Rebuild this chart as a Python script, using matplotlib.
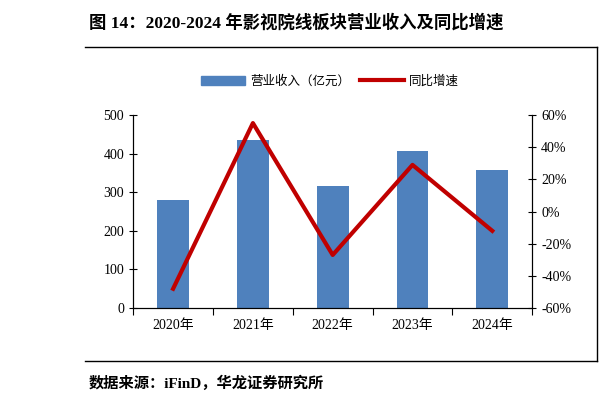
import matplotlib
matplotlib.use("Agg")
import matplotlib.pyplot as plt
from matplotlib.lines import Line2D
from matplotlib.ticker import FuncFormatter, MultipleLocator

plt.rcParams["font.family"] = ["Liberation Serif", "Noto Sans CJK SC"]

years = ["2020年", "2021年", "2022年", "2023年", "2024年"]
revenue = [280, 435, 315, 407, 357]
growth = [-48, 55, -27, 29, -12]

fig = plt.figure(figsize=(6, 4.08), dpi=100)
ax = fig.add_axes([0.222, 0.245, 0.665, 0.473])
ax2 = ax.twinx()

x = range(len(years))
ax.bar(x, revenue, width=0.4, color="#4f81bd", zorder=2)
ax2.plot(x, growth, color="#c00000", lw=3, zorder=3)

ax.set_xlim(-0.5, len(years) - 0.5)
ax.set_ylim(0, 500)
ax.yaxis.set_major_locator(MultipleLocator(100))
ax2.set_ylim(-60, 60)
ax2.yaxis.set_major_locator(MultipleLocator(20))
ax2.yaxis.set_major_formatter(FuncFormatter(lambda v, p: f"{v:.0f}%"))

ax.set_xticks([i - 0.5 for i in range(len(years) + 1)])
ax.set_xticklabels([])
ax.set_xticks(list(x), minor=True)
ax.set_xticklabels(years, minor=True, fontsize=10)
ax.tick_params(axis="x", which="minor", length=0, pad=8)
ax.tick_params(axis="x", which="major", direction="out", length=5)
ax.tick_params(axis="y", direction="inout", length=6, labelsize=10)
ax2.tick_params(axis="y", direction="inout", length=6, labelsize=10)
for a in (ax, ax2):
    a.spines["top"].set_visible(False)

handles = [plt.Rectangle((0, 0), 1, 1, color="#4f81bd"),
           Line2D([0], [0], color="#c00000", lw=3)]
fig.legend(handles, ["营业收入（亿元）", "同比增速"], loc="center",
           bbox_to_anchor=(0.55, 0.8), ncol=2, frameon=False, fontsize=9,
           handlelength=3.5, columnspacing=0.8, handletextpad=0.4)

fig.text(0.148, 0.945, "图 14：2020-2024 年影视院线板块营业收入及同比增速",
         fontsize=12.5, fontweight="bold", va="center")
fig.text(0.148, 0.06, "数据来源：iFinD，华龙证券研究所",
         fontsize=11, fontweight="bold", va="center")
fig.add_artist(Line2D([0.142, 0.995], [0.885, 0.885], color="black", lw=1))
fig.add_artist(Line2D([0.142, 0.995], [0.115, 0.115], color="black", lw=1))
fig.add_artist(Line2D([0.995, 0.995], [0.115, 0.885], color="black", lw=1))

fig.savefig("out.png", dpi=100)
